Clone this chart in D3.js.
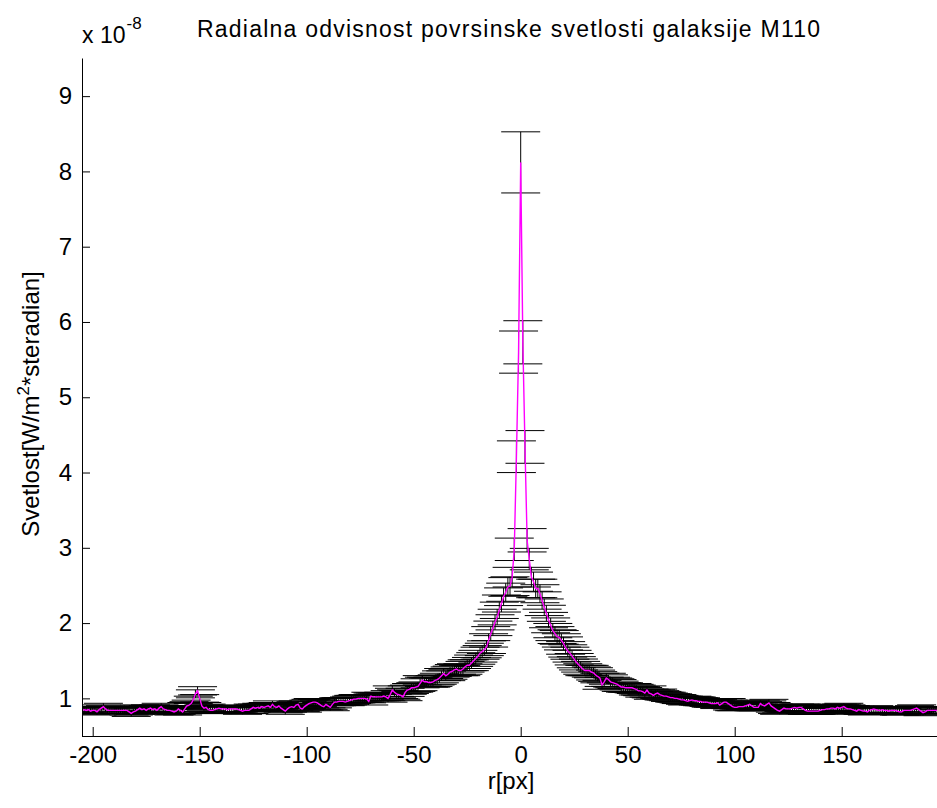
<!DOCTYPE html>
<html>
<head>
<meta charset="utf-8">
<script src="https://cdn.jsdelivr.net/npm/d3@7"></script>
<style>
  html, body { margin: 0; padding: 0; background: #fff; }
  svg { display: block; font-family: "Liberation Sans", Arial, Helvetica, sans-serif; }
</style>
</head>
<body>
<svg id="chart" width="937" height="808"></svg>
<script>
// ---- data (surface brightness, units of 1e-8 W/m^2/sr) ----
const rStart = -205, rEnd = 195;             // radius in px, step 1
const brightness = [
  // -205 .. -103
  0.84,0.85,0.84,0.85,0.83,0.84,0.84,0.82,0.85,0.87,
  0.89,0.86,0.84,0.84,0.84,0.84,0.84,0.84,0.84,0.84,
  0.84,0.84,0.82,0.80,0.82,0.83,0.85,0.87,0.85,0.86,
  0.84,0.86,0.87,0.85,0.86,0.84,0.87,0.89,0.86,0.85,
  0.84,0.84,0.83,0.82,0.83,0.86,0.84,0.82,0.86,0.90,
  0.91,0.93,0.98,1.06,1.10,1.00,0.90,0.87,0.88,0.85,
  0.84,0.84,0.85,0.86,0.87,0.86,0.86,0.86,0.85,0.86,
  0.86,0.86,0.86,0.85,0.84,0.83,0.84,0.84,0.84,0.86,
  0.88,0.87,0.88,0.87,0.89,0.88,0.89,0.90,0.88,0.92,
  0.89,0.88,0.90,0.87,0.85,0.83,0.86,0.88,0.89,0.88,
  0.91,0.92,0.87,
  // -102 .. -29
  0.86,0.89,0.91,0.93,0.94,0.95,0.95,0.94,0.92,0.90,
  0.89,0.92,0.90,0.88,0.92,0.95,0.95,0.96,0.96,0.96,
  0.95,0.96,0.97,0.98,0.99,0.99,1.00,1.00,1.00,1.00,
  0.99,0.96,1.03,1.02,1.02,1.02,1.02,1.02,1.03,1.02,
  1.00,1.05,1.11,1.08,1.06,1.05,1.04,1.02,1.08,1.11,
  1.12,1.14,1.14,1.15,1.16,1.20,1.24,1.22,1.22,1.21,
  1.21,1.22,1.24,1.25,1.27,1.30,1.33,1.30,1.32,1.35,
  1.36,1.38,1.39,1.37,
  // -28 .. -1
  1.37,1.39,1.42,1.44,1.44,1.47,1.50,1.53,1.56,1.60,
  1.62,1.65,1.68,1.77,1.86,1.93,2.01,2.08,2.17,2.26,
  2.35,2.41,2.48,2.49,2.61,2.98,4.21,5.60,
  // 0
  8.12,
  // 1 .. 30
  5.73,4.34,3.10,2.85,2.61,2.55,2.46,2.46,2.39,2.30,
  2.21,2.13,2.04,1.97,1.90,1.86,1.82,1.81,1.77,1.73,
  1.67,1.63,1.60,1.56,1.52,1.48,1.45,1.42,1.39,1.37,
  // 31 .. 111
  1.37,1.37,1.35,1.34,1.31,1.29,1.27,1.18,1.22,1.27,
  1.25,1.22,1.21,1.20,1.19,1.17,1.15,1.15,1.14,1.14,
  1.14,1.14,1.13,1.12,1.10,1.10,1.09,1.07,1.11,1.07,
  1.06,1.04,1.06,1.07,1.05,1.04,1.03,1.03,1.02,1.01,
  1.01,1.00,1.00,0.99,0.98,0.98,0.97,0.96,0.97,0.98,
  0.97,0.97,0.96,0.96,0.95,0.95,0.95,0.94,0.93,0.93,
  0.93,0.94,0.91,0.93,0.95,0.95,0.93,0.91,0.89,0.88,
  0.88,0.89,0.89,0.89,0.90,0.91,0.92,0.90,0.88,0.88,
  0.88,
  // 112 .. 195
  0.93,0.91,0.90,0.92,0.94,0.90,0.88,0.86,0.84,0.83,
  0.85,0.87,0.86,0.86,0.86,0.87,0.88,0.87,0.88,0.88,
  0.86,0.84,0.83,0.83,0.83,0.83,0.83,0.83,0.84,0.85,
  0.85,0.86,0.86,0.87,0.87,0.86,0.88,0.87,0.88,0.89,
  0.87,0.86,0.86,0.85,0.84,0.83,0.85,0.84,0.83,0.83,
  0.82,0.84,0.85,0.86,0.85,0.84,0.84,0.85,0.84,0.84,
  0.83,0.84,0.84,0.84,0.83,0.82,0.82,0.84,0.84,0.84,
  0.84,0.85,0.86,0.87,0.85,0.83,0.81,0.82,0.84,0.84,
  0.84,0.84,0.84,0.84
];
const relError = 0.05;                      // relative uncertainty of each point
const xTicks = [-200, -150, -100, -50, 0, 50, 100, 150];
const yTicks = [1, 2, 3, 4, 5, 6, 7, 8, 9];

(function draw() {
  const radius = d3.range(rStart, rEnd + 1);
  const points = radius.map((r, i) => ({ r, v: brightness[i] })).filter(d => d.v !== undefined);

  const svg = d3.select("#chart");
  const L = 82, R = 938, T = 58.5, B = 736;
  const x = d3.scaleLinear().domain([-205, 195]).range([L, R]);
  const y = d3.scaleLinear().domain([0.5, 9.5]).range([B, T]);
  const capHalf = 19.5;
  const FS = 24;

  const g = svg.append("g");

  // error bars
  const eb = g.append("g").attr("stroke", "#000").attr("stroke-width", 1).attr("fill", "none");
  points.forEach(d => {
    const lo = y(d.v * (1 - relError)), hi = y(d.v * (1 + relError)), cx = x(d.r);
    eb.append("line").attr("x1", cx).attr("x2", cx).attr("y1", lo).attr("y2", hi);
    eb.append("line").attr("x1", cx - capHalf).attr("x2", cx + capHalf).attr("y1", lo).attr("y2", lo);
    eb.append("line").attr("x1", cx - capHalf).attr("x2", cx + capHalf).attr("y1", hi).attr("y2", hi);
  });

  // profile line
  g.append("path")
    .datum(points)
    .attr("fill", "none")
    .attr("stroke", "#ff00ff")
    .attr("stroke-width", 1.4)
    .attr("d", d3.line().x(d => x(d.r)).y(d => y(d.v)));

  // white masks outside the axes
  svg.append("rect").attr("x", 0).attr("y", 0).attr("width", L).attr("height", 808).attr("fill", "#fff");
  svg.append("rect").attr("x", 0).attr("y", B + 0.5).attr("width", 937).attr("height", 808 - B).attr("fill", "#fff");

  // axes
  const yAxis = d3.axisLeft(y).tickValues(yTicks).tickSizeInner(-8).tickSizeOuter(0).tickPadding(10).tickFormat(d3.format("d"));
  const xAxis = d3.axisBottom(x).tickValues(xTicks).tickSizeInner(-9).tickSizeOuter(0).tickPadding(10).tickFormat(d => String(d));

  const ya = svg.append("g").attr("transform", `translate(${L},0)`).call(yAxis);
  const xa = svg.append("g").attr("transform", `translate(0,${B})`).call(xAxis);
  [ya, xa].forEach(a => {
    a.select(".domain").attr("stroke", "#000");
    a.selectAll(".tick line").attr("stroke", "#000");
    a.selectAll("text").attr("font-size", FS).attr("fill", "#000").attr("font-family", "Liberation Sans, Arial, sans-serif");
  });
  ya.select(".domain").attr("d", `M0.5,${T}V${B}`);
  xa.select(".domain").attr("d", `M${L},0.5H${937}`);

  // exponent
  const ex = svg.append("text").attr("x", 82).attr("y", 43).attr("font-size", 23).attr("fill", "#000");
  ex.append("tspan").text("x 10");
  ex.append("tspan").attr("dx", 1).attr("dy", -14).attr("font-size", 17).text("-8");

  // title
  svg.append("text").attr("x", 508.5).attr("y", 37).attr("text-anchor", "middle")
    .attr("font-size", 23).attr("fill", "#000")
    .attr("textLength", 623).attr("lengthAdjust", "spacing")
    .text("Radialna odvisnost povrsinske svetlosti galaksije M110");

  // x label
  svg.append("text").attr("x", 511).attr("y", 789).attr("text-anchor", "middle")
    .attr("font-size", FS).attr("fill", "#000").text("r[px]");

  // y label
  const yl = svg.append("text").attr("transform", "translate(39,404) rotate(-90)")
    .attr("text-anchor", "middle").attr("font-size", FS).attr("fill", "#000");
  yl.append("tspan").text("Svetlost[W/m");
  yl.append("tspan").attr("dy", -10).attr("font-size", 17).text("2");
  yl.append("tspan").attr("dy", 10).text("*steradian]");
})();
</script>
</body>
</html>
